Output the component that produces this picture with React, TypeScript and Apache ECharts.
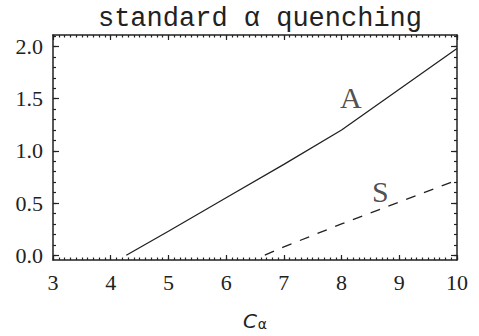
import React, { useEffect, useRef } from "react";
import * as echarts from "echarts";

const aX = [4.27, 5.0, 6.0, 7.0, 8.0, 9.0, 10.0];
const aY = [0.0, 0.23, 0.55, 0.87, 1.2, 1.59, 1.98];
const sX = [6.67, 7.0, 8.0, 9.0, 10.0];
const sY = [0.0, 0.08, 0.3, 0.51, 0.72];
const xTicks = [3, 4, 5, 6, 7, 8, 9, 10];
const yTicks = [0, 0.5, 1.0, 1.5, 2.0];
const curveLabels = [
  { name: "A", x: 8.16, y: 1.51 },
  { name: "S", x: 8.67, y: 0.61 },
];

const X_MIN = 3, X_MAX = 10, Y_MIN = -0.046, Y_MAX = 2.11;

function steps(from: number, to: number, step: number) {
  const out: number[] = [];
  const n = Math.round((to - from) / step);
  for (let i = 0; i <= n; i++) out.push(Math.round((from + i * step) * 1000) / 1000);
  return out;
}

const xMinor = steps(3, 10, 0.1);
const yMinor = steps(0, 2.1, 0.1);

const INK = "#222";
const SERIF = "'Liberation Serif', 'Times New Roman', serif";

export default function App() {
  const ref = useRef<HTMLDivElement>(null);
  useEffect(() => {
    if (!ref.current) return;
    const chart = echarts.init(ref.current, undefined, { renderer: "svg" });
    const xBase = (pos: "bottom" | "top", major: boolean, show: boolean) => ({
      type: "value",
      position: pos,
      min: X_MIN,
      max: X_MAX,
      interval: 1,
      splitLine: { show: false },
      axisLine: { show: major, onZero: false, lineStyle: { color: INK, width: 1.5 } },
      axisTick: {
        show: true,
        inside: true,
        length: major ? 5 : 2.5,
        customValues: major ? xTicks : xMinor,
        lineStyle: { color: INK, width: 1.2 },
      },
      axisLabel: {
        show,
        margin: 11,
        fontFamily: SERIF,
        fontSize: 22,
        color: INK,
        formatter: (v: number) => String(v),
      },
    });
    const yBase = (pos: "left" | "right", major: boolean, show: boolean) => ({
      type: "value",
      position: pos,
      min: Y_MIN,
      max: Y_MAX,
      splitLine: { show: false },
      axisLine: { show: major, onZero: false, lineStyle: { color: INK, width: 1.5 } },
      axisTick: {
        show: true,
        inside: true,
        length: major ? 6 : 3,
        customValues: major ? yTicks : yMinor,
        lineStyle: { color: INK, width: 1.2 },
      },
      axisLabel: {
        show,
        customValues: yTicks,
        margin: 10,
        fontFamily: SERIF,
        fontSize: 22,
        color: INK,
        formatter: (v: number) => v.toFixed(1),
      },
    });
    const xMain: any = xBase("bottom", true, true);
    xMain.name = "{c|C}{s|α}";
    xMain.nameLocation = "middle";
    xMain.nameGap = 45;
    xMain.nameTextStyle = {
      rich: {
        c: { fontFamily: "DejaVu Sans", fontStyle: "italic", fontSize: 20, color: INK, verticalAlign: "bottom" },
        s: { fontFamily: "DejaVu Sans", fontSize: 14, color: INK, padding: [12, 0, 0, 1] },
      },
    };
    chart.setOption({
      animation: false,
      backgroundColor: "#fff",
      title: {
        text: "standard α quenching",
        left: 255,
        textAlign: "center",
        top: 0,
        textStyle: { fontFamily: "Liberation Mono", fontSize: 27, fontWeight: "normal", color: INK },
      },
      grid: { left: 53, right: 22, top: 35, bottom: 68 },
      xAxis: [xMain, xBase("bottom", false, false), xBase("top", true, false), xBase("top", false, false)],
      yAxis: [yBase("left", true, true), yBase("left", false, false), yBase("right", true, false), yBase("right", false, false)],
      series: [
        {
          type: "line",
          xAxisIndex: 0,
          yAxisIndex: 0,
          data: aX.map((x, i) => [x, aY[i]]),
          showSymbol: false,
          lineStyle: { color: INK, width: 1.3 },
        },
        {
          type: "line",
          xAxisIndex: 0,
          yAxisIndex: 0,
          data: sX.map((x, i) => [x, sY[i]]),
          showSymbol: false,
          lineStyle: { color: INK, width: 1.3, type: [10, 9] },
        },
        {
          type: "scatter",
          xAxisIndex: 0,
          yAxisIndex: 0,
          symbolSize: 0,
          data: curveLabels.map((d) => ({ name: d.name, value: [d.x, d.y] })),
          label: {
            show: true,
            position: "inside",
            formatter: (p: any) => p.name,
            fontFamily: SERIF,
            fontSize: 30,
            color: INK,
          },
        },
      ],
    });
    return () => chart.dispose();
  }, []);
  return <div ref={ref} style={{ width: 479, height: 336, position: "absolute", left: 0, top: 0 }} />;
}
